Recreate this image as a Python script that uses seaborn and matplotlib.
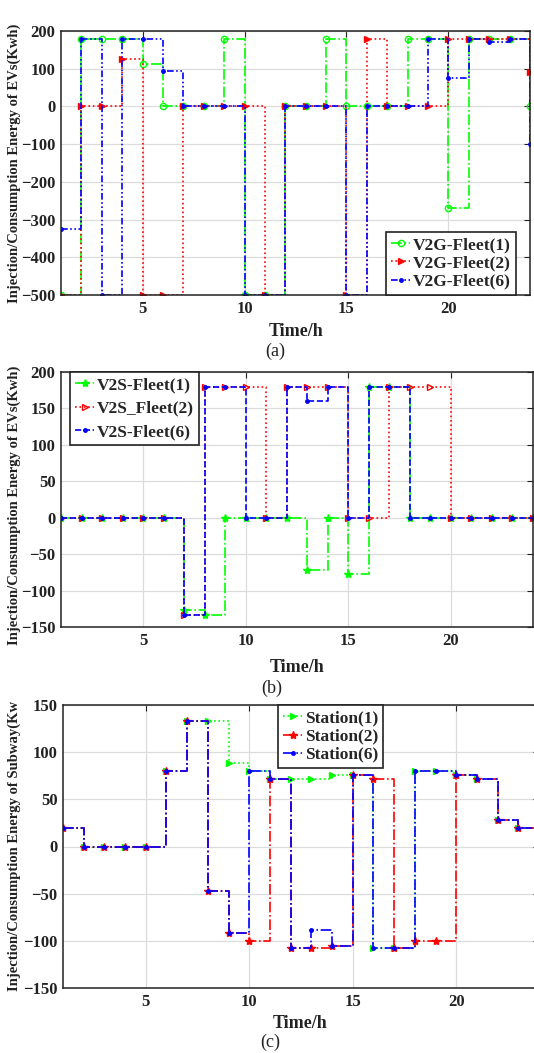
import numpy as np
import pandas as pd
import matplotlib
matplotlib.use("Agg")
import matplotlib.pyplot as plt
import seaborn as sns

# ---------------- data ----------------
hours = list(range(1, 25))

# (a) V2G fleets
v2g_fleet1 = [-500, 180, 180, 180, 112, 0, 0, 0, 180, -500, -500, 0, 0, 180, 0, 0, 0, 180, 180, -270, 180, 180, 180, 0]
v2g_fleet2 = [-500, 0, 0, 125, -500, -500, 0, 0, 0, 0, -500, 0, 0, 0, -500, 180, 0, 0, 0, 180, 180, 180, 180, 90]
v2g_fleet6 = [-325, 180, -500, 180, 180, 95, 0, 0, 0, -500, -500, 0, 0, 0, -500, 0, 0, 0, 180, 75, 180, 172, 180, -100]

# (b) V2S fleets
v2s_fleet1 = [0, 0, 0, 0, 0, 0, -127, -133, 0, 0, 0, 0, -72, 0, -77, 180, 180, 0, 0, 0, 0, 0, 0, 0]
v2s_fleet2 = [0, 0, 0, 0, 0, 0, -133, 180, 180, 180, 0, 180, 180, 180, 0, 0, 180, 180, 180, 0, 0, 0, 0, 0]
v2s_fleet6 = [0, 0, 0, 0, 0, 0, -133, 180, 180, 0, 0, 180, 160, 180, 0, 180, 180, 0, 0, 0, 0, 0, 0, 0]

# (c) Subway stations
station1 = [20, 0, 0, 0, 0, 80, 133, 133, 88, 80, 72, 72, 72, 76, 76, -108, -108, 80, 80, 76, 72, 28, 20, 20]
station2 = [20, 0, 0, 0, 0, 80, 133, -47, -92, -100, 72, -108, -108, -105, 76, 72, -108, -100, -100, 76, 72, 28, 20, 20]
station6 = [20, 0, 0, 0, 0, 80, 133, -47, -92, 80, 72, -108, -88, -105, 76, -108, -108, 80, 80, 76, 72, 28, 20, 20]

labels_a = ["V2G-Fleet(1)", "V2G-Fleet(2)", "V2G-Fleet(6)"]
labels_b = ["V2S-Fleet(1)", "V2S_Fleet(2)", "V2S-Fleet(6)"]
labels_c = ["Station(1)", "Station(2)", "Station(6)"]

# ---------------- style ----------------
sns.set_style("whitegrid")
plt.rcParams['font.family'] = ['Liberation Serif', 'DejaVu Serif']
plt.rcParams['font.weight'] = 'bold'
plt.rcParams['axes.labelweight'] = 'bold'

W, H = 534, 1053
fig = plt.figure(figsize=(W / 100, H / 100), dpi=100)
fig.patch.set_facecolor('white')

def fx(px):
    return px / W

def fy(py):
    return 1 - py / H

def make_ax(l, r, t, b):
    return fig.add_axes([fx(l), fy(b), fx(r) - fx(l), (b - t) / H])

GREEN, RED, BLUE = (0, 1, 0), (1, 0, 0), (0, 0, 1)

def draw(ax, x, y, label, color, ls, marker, ms, mfc):
    sns.lineplot(x=x, y=y, ax=ax, label=label, color=color, linestyle=ls,
                 linewidth=1.2, drawstyle='steps-post', marker=marker,
                 markersize=ms, mec=color, mfc=mfc, mew=1.0, sort=False)

def style_ax(ax, ylim, yticks):
    ax.set_xlim(1, 24)
    ax.set_ylim(*ylim)
    ax.set_xticks([5, 10, 15, 20])
    ax.set_yticks(yticks)
    ax.grid(True, color='#dcdcdc', linewidth=0.9)
    ax.set_xlabel("")
    ax.set_ylabel("")
    for s in ax.spines.values():
        s.set_color('#222222')
        s.set_linewidth(1.1)
        s.set_visible(True)
    ax.tick_params(direction='in', length=4, width=0.8, top=True, right=True,
                   labelsize=12, colors='#222222', pad=4)
    for t in ax.get_xticklabels() + ax.get_yticklabels():
        t.set_fontweight('bold')

# ---------------- panel (a) ----------------
ax_a = make_ax(61, 530, 31, 295)
draw(ax_a, hours, v2g_fleet1, labels_a[0], GREEN, '-.', 'o', 4.5, 'none')
draw(ax_a, hours, v2g_fleet2, labels_a[1], RED, ':', '>', 5, RED)
draw(ax_a, hours, v2g_fleet6, labels_a[2], BLUE, (0, (4, 1.5, 1, 1.5, 1, 1.5)), '.', 5, BLUE)
style_ax(ax_a, (-500, 200), np.arange(-500, 201, 100))

# ---------------- panel (b) ----------------
ax_b = make_ax(61, 533, 372, 627)
draw(ax_b, hours, v2s_fleet1, labels_b[0], GREEN, '-.', '*', 6, GREEN)
draw(ax_b, hours, v2s_fleet2, labels_b[1], RED, ':', '>', 5, 'none')
draw(ax_b, hours, v2s_fleet6, labels_b[2], BLUE, '--', '.', 5, BLUE)
style_ax(ax_b, (-150, 200), np.arange(-150, 201, 50))

# ---------------- panel (c) ----------------
ax_c = make_ax(63, 539, 705, 988)
draw(ax_c, hours, station1, labels_c[0], GREEN, ':', '>', 5, GREEN)
draw(ax_c, hours, station2, labels_c[1], RED, '-.', '*', 6, RED)
draw(ax_c, hours, station6, labels_c[2], BLUE, '-.', '.', 5, BLUE)
style_ax(ax_c, (-150, 150), np.arange(-150, 151, 50))

# ---------------- legends ----------------
leg_kw = dict(frameon=True, fancybox=False, framealpha=1, edgecolor='#222222',
              borderaxespad=0, handlelength=1.1, handletextpad=0.15,
              borderpad=0.3, prop={'family': 'Liberation Serif', 'weight': 'bold', 'size': 12.5})
la = ax_a.legend(loc='lower right', bbox_to_anchor=(fx(516), fy(295)),
                 bbox_transform=fig.transFigure, labelspacing=0.12, **leg_kw)
lb = ax_b.legend(loc='upper left', bbox_to_anchor=(fx(70), fy(372)),
                 bbox_transform=fig.transFigure, labelspacing=0.42, **leg_kw)
lc = ax_c.legend(loc='upper left', bbox_to_anchor=(fx(278), fy(705)),
                 bbox_transform=fig.transFigure, labelspacing=0.12, **leg_kw)
for lg in (la, lb, lc):
    lg.get_frame().set_linewidth(1.2)

# ---------------- labels ----------------
txt = dict(fontweight='bold', color='#222222')
fig.text(fx(296), fy(332), "Time/h", ha='center', va='center', fontsize=13, **txt)
fig.text(fx(275), fy(351), "(a)", ha='center', va='center', fontsize=13, fontweight='normal', color='#222222')
fig.text(fx(297), fy(668), "Time/h", ha='center', va='center', fontsize=13, **txt)
fig.text(fx(272), fy(688), "(b)", ha='center', va='center', fontsize=13, fontweight='normal', color='#222222')
fig.text(fx(300), fy(1023), "Time/h", ha='center', va='center', fontsize=13, **txt)
fig.text(fx(270), fy(1042), "(c)", ha='center', va='center', fontsize=13, fontweight='normal', color='#222222')

fig.text(fx(14), fy(163), "Injection/Consumption Energy of EVs(Kwh)", rotation=90,
         ha='center', va='center', fontsize=10.5, **txt)
fig.text(fx(14), fy(505), "Injection/Consumption Energy of EVs(Kwh)", rotation=90,
         ha='center', va='center', fontsize=10.5, **txt)
fig.text(fx(14), fy(846), "Injection/Consumption Energy of Subway(Kw", rotation=90,
         ha='center', va='center', fontsize=10.5, **txt)

fig.savefig("out.png", dpi=100, facecolor='white')
